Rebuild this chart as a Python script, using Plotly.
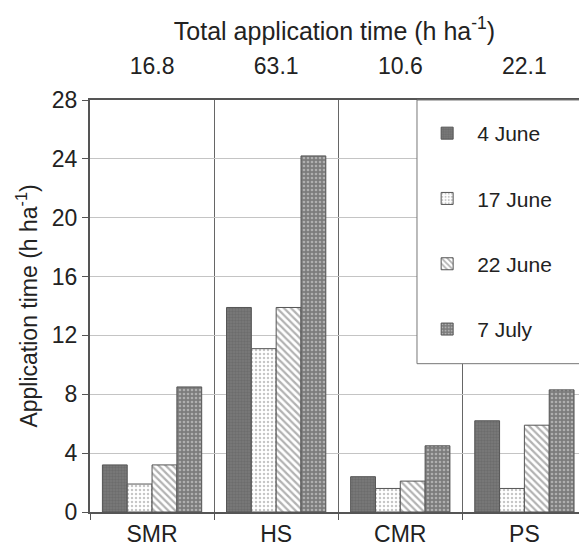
import plotly.graph_objects as go

categories = ["SMR", "HS", "CMR", "PS"]
totals = ["16.8", "63.1", "10.6", "22.1"]
series_names = ["4 June", "17 June", "22 June", "7 July"]
june4 = [3.2, 13.9, 2.4, 6.2]
june17 = [1.9, 11.1, 1.6, 1.6]
june22 = [3.2, 13.9, 2.1, 5.9]
july7 = [8.5, 24.2, 4.5, 8.3]
y_ticks = [0, 4, 8, 12, 16, 20, 24, 28]

series_values = [june4, june17, june22, july7]
patterns = [
    dict(shape=".", fgcolor="#5e5e5e", bgcolor="#7a7a7a", size=3, solidity=0.5),
    dict(shape=".", fgcolor="#8c8c8c", bgcolor="#ffffff", size=4, solidity=0.3),
    dict(shape="\\", fgcolor="#666666", bgcolor="#ffffff", size=5, solidity=0.45),
    dict(shape=".", fgcolor="#e2e2e2", bgcolor="#7c7c7c", size=4, solidity=0.35),
]

FONT = "Liberation Sans, Arial, sans-serif"
fig = go.Figure()
for i, (name, vals) in enumerate(zip(series_names, series_values)):
    fig.add_trace(go.Bar(
        x=categories, y=vals, name=name, legendgroup=name,
        marker=dict(color=patterns[i]["bgcolor"], pattern=patterns[i],
                    line=dict(color="#555555", width=1)),
    ))

# top axis carrying total application times
fig.add_trace(go.Scatter(x=categories, y=[None] * len(categories), xaxis="x2",
                         showlegend=False, hoverinfo="skip", mode="markers"))

xr = [-0.5, 3.44]
fig.update_layout(
    width=579, height=547,
    margin=dict(l=90, r=0, t=100, b=33),
    paper_bgcolor="white", plot_bgcolor="white",
    font=dict(family=FONT, size=24, color="#222222"),
    barmode="group", bargap=0.2, bargroupgap=0,
    xaxis=dict(range=xr, tickson="boundaries", ticks="outside", ticklen=6,
               tickcolor="#555555", showgrid=True, gridcolor="#666666", gridwidth=1,
               showline=True, linecolor="#555555", linewidth=2, mirror=True,
               tickfont=dict(size=23)),
    xaxis2=dict(overlaying="x", side="top", type="category", categoryarray=categories,
                range=xr, tickvals=categories, ticktext=totals,
                ticks="outside", ticklen=16, tickcolor="rgba(0,0,0,0)",
                showgrid=False, showline=False, zeroline=False,
                title=dict(text="Total application time (h ha<sup>-1</sup>)",
                           standoff=5, font=dict(size=25)),
                tickfont=dict(size=23)),
    yaxis=dict(range=[0, 28], tickvals=y_ticks, ticks="outside", ticklen=6,
               tickcolor="#555555", showgrid=True, gridcolor="#c4c4c4", gridwidth=1,
               showline=True, linecolor="#555555", linewidth=2, zeroline=False,
               title=dict(text="Application time (h ha<sup>-1</sup>)", standoff=8,
                          font=dict(size=23)),
               tickfont=dict(size=23)),
    legend=dict(x=0.669, xanchor="left", y=1, yanchor="top",
                bgcolor="rgba(0,0,0,0)", borderwidth=0,
                font=dict(size=21), tracegroupgap=35, traceorder="grouped",
                itemwidth=50,
                title=dict(text=" ", font=dict(size=10))),
    showlegend=True,
    shapes=[dict(type="rect", xref="paper", yref="paper", x0=0.6687, x1=1.05,
                 y0=0.36, y1=1.0, fillcolor="white", layer="above",
                 line=dict(color="#777777", width=1))],
)

fig.write_html("out.html")
